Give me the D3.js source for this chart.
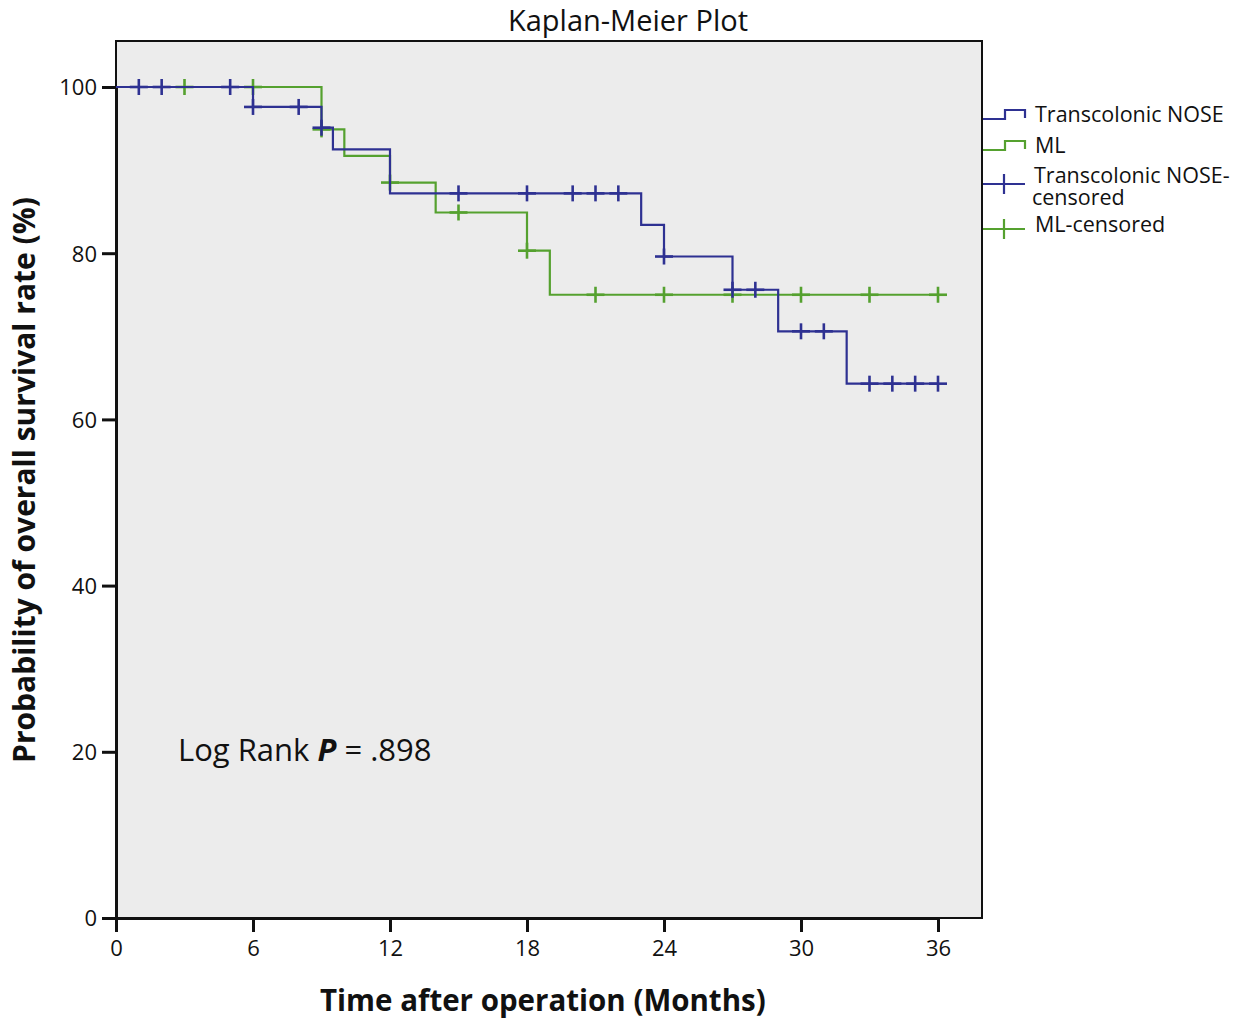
<!DOCTYPE html>
<html><head><meta charset="utf-8">
<script src="https://cdn.jsdelivr.net/npm/d3@7"></script>
<style>body{margin:0;background:#fff}svg{display:block}text{font-family:"Open Sans","Noto Sans",sans-serif;fill:#111}</style>
</head><body><svg id="c" width="1240" height="1020"></svg>
<script>
// Data
const xTicks = [0, 6, 12, 18, 24, 30, 36];
const yTicks = [0, 20, 40, 60, 80, 100];
// step curves: [time, survival %]
const noseSteps = [[0,100],[6,97.6],[9,95.1],[9.5,92.5],[12,87.2],[23,83.4],[24,79.6],[27,75.6],[29,70.6],[32,64.3],[36,64.3]];
const mlSteps = [[0,100],[9,94.9],[10,91.7],[12,88.5],[14,84.9],[18,80.3],[19,75.0],[36,75.0]];
const noseCensored = [[1,100],[2,100],[5,100],[6,97.6],[8,97.6],[9,95.1],[15,87.2],[18,87.2],[20,87.2],[21,87.2],[22,87.2],[24,79.6],[27,75.6],[28,75.6],[30,70.6],[31,70.6],[33,64.3],[34,64.3],[35,64.3],[36,64.3]];
const mlCensored = [[3,100],[6,100],[9,94.9],[12,88.5],[15,84.9],[18,80.3],[21,75],[24,75],[27,75],[30,75],[33,75],[36,75]];
const legendLabels = ["Transcolonic NOSE","ML","Transcolonic NOSE-","censored","ML-censored"];

const blue = "#2e3192", green = "#55a12f";
const svg = d3.select("#c");
const x = d3.scaleLinear().domain([0,36]).range([116,938]);
const y = d3.scaleLinear().domain([0,100]).range([918,87]);

// plot area
svg.append("rect").attr("x",116).attr("y",41).attr("width",866).attr("height",877)
  .attr("fill","#ececec").attr("stroke","#111").attr("stroke-width",2);

// title
svg.append("text").attr("x",628).attr("y",31).attr("text-anchor","middle")
  .attr("font-size",29).text("Kaplan-Meier Plot");

// axes
const ya = svg.append("g").attr("transform","translate(116,0)")
  .call(d3.axisLeft(y).tickValues(yTicks).tickSize(14).tickPadding(5));
const xa = svg.append("g").attr("transform","translate(0,918)")
  .call(d3.axisBottom(x).tickValues(xTicks).tickSize(14).tickPadding(8));
[ya,xa].forEach(g=>{
  g.select(".domain").attr("stroke","#111").attr("stroke-width",3);
  g.selectAll(".tick line").attr("stroke","#111").attr("stroke-width",3);
  g.selectAll(".tick text").attr("font-size",22).attr("fill","#111")
   .style("font-family",'"Open Sans","Noto Sans",sans-serif');
});
ya.selectAll(".tick text").attr("dy","0.36em");

// axis titles
svg.append("text").attr("x",320).attr("y",1011).attr("font-size",29.5).attr("font-weight","bold")
  .text("Time after operation (Months)");
svg.append("text").attr("transform","translate(35,480) rotate(-90)").attr("text-anchor","middle")
  .attr("font-size",30).attr("font-weight","bold").text("Probability of overall survival rate (%)");

// curves
const line = d3.line().x(d=>x(d[0])).y(d=>y(d[1])).curve(d3.curveStepAfter);
function drawCurve(steps, cens, col){
  svg.append("path").datum(steps).attr("d",line).attr("fill","none")
    .attr("stroke",col).attr("stroke-width",2.2);
  svg.append("g").selectAll("line").data(cens).join("line")
    .attr("x1",d=>x(d[0])).attr("x2",d=>x(d[0]))
    .attr("y1",d=>y(d[1])-8).attr("y2",d=>y(d[1])+8)
    .attr("stroke",col).attr("stroke-width",2.6);
  svg.append("g").selectAll("line").data(cens).join("line")
    .attr("x1",d=>x(d[0])-9).attr("x2",d=>x(d[0])+9)
    .attr("y1",d=>y(d[1])).attr("y2",d=>y(d[1]))
    .attr("stroke",col).attr("stroke-width",2.6);
}
drawCurve(mlSteps, mlCensored, green);
drawCurve(noseSteps, noseCensored, blue);

// annotation
const ann = svg.append("text").attr("x",178).attr("y",761).attr("font-size",31);
ann.append("tspan").text("Log Rank ");
ann.append("tspan").attr("font-weight","bold").attr("font-style","italic").text("P");
ann.append("tspan").text(" = .898");

// legend
const lg = svg.append("g");
const symY = [119, 150, 184, 229];
const cols = [blue, green, blue, green];
symY.forEach((yy,i)=>{
  const c = cols[i];
  if(i<2){
    lg.append("path").attr("d",`M983,${yy}H1005V${yy-9}H1025V${yy-1}`)
      .attr("fill","none").attr("stroke",c).attr("stroke-width",2.2);
  } else {
    lg.append("path").attr("d",`M983,${yy}H1025M1004,${yy-10}V${yy+10}`)
      .attr("fill","none").attr("stroke",c).attr("stroke-width",2.2);
  }
});
const txtX = [1035, 1035, 1034, 1032, 1035];
const txtY = [122, 153, 183, 205, 232];
legendLabels.forEach((lab,i)=>{
  lg.append("text").attr("x",txtX[i]).attr("y",txtY[i]).attr("font-size",21.5).text(lab);
});
</script></body></html>
